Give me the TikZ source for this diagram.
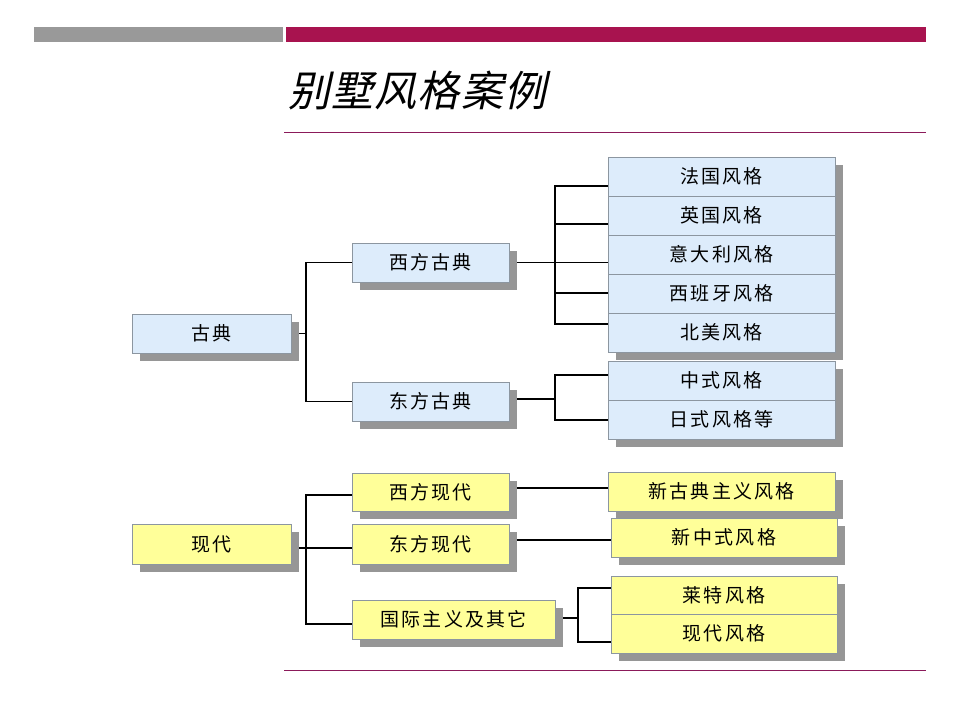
\documentclass[tikz,border=0pt]{standalone}
\usepackage{fontspec}
\setmainfont{Liberation Sans}
\newfontfamily\cjk{Noto Sans CJK SC}[LetterSpace=12]
\newfontfamily\cjktitle{Noto Sans CJK SC}[FakeSlant=0.22,LetterSpace=3]
\usetikzlibrary{shadows}
\definecolor{barmag}{RGB}{168,19,79}
\definecolor{bargray}{RGB}{153,153,153}
\definecolor{rulemag}{RGB}{139,26,90}
\definecolor{bluefill}{RGB}{221,236,251}
\definecolor{yellowfill}{RGB}{255,255,153}
\definecolor{boxborder}{RGB}{140,150,160}
\definecolor{shadowgray}{RGB}{150,150,150}
\tikzset{
  box/.style={draw=boxborder, line width=0.8pt, inner sep=0pt,
    font=\cjk\fontsize{19}{22}\selectfont,
    drop shadow={shadow xshift=8pt, shadow yshift=-8pt, fill=shadowgray, opacity=1}},
  bluebox/.style={box, fill=bluefill},
  yelbox/.style={box, fill=yellowfill},
  conn/.style={draw=black, line width=1.1pt},
}
\begin{document}
\begin{tikzpicture}[x=1pt,y=-1pt]
\useasboundingbox (0,0) rectangle (960,720);
% header
\fill[bargray] (34,27) rectangle (283,42);
\fill[barmag] (286,27) rectangle (926,42);
\node[anchor=west, inner sep=0pt, font=\cjktitle\fontsize{42}{48}\selectfont] (title) at (288,90) {别墅风格案例};
\draw[rulemag, line width=1pt] (284,132) -- (926,132);
\draw[rulemag, line width=1pt] (284,670) -- (926,670);

% classical
\node[bluebox, minimum width=159pt, minimum height=39pt] (gd) at (211.5,333.5) {古典};
\node[bluebox, minimum width=157pt, minimum height=39pt] (xfgd) at (430.5,262.5) {西方古典};
\node[bluebox, minimum width=157pt, minimum height=39pt] (dfgd) at (430.5,401.5) {东方古典};
\node[bluebox, minimum width=227pt, minimum height=39pt] (fr) at (721.5,176.5) {法国风格};
\node[bluebox, minimum width=227pt, minimum height=39pt] (en) at (721.5,215.5) {英国风格};
\node[bluebox, minimum width=227pt, minimum height=39pt] (it) at (721.5,254.5) {意大利风格};
\node[bluebox, minimum width=227pt, minimum height=39pt] (es) at (721.5,293.5) {西班牙风格};
\node[bluebox, minimum width=227pt, minimum height=39pt] (na) at (721.5,332.5) {北美风格};
\node[bluebox, minimum width=227pt, minimum height=39pt] (zs) at (721.5,380.5) {中式风格};
\node[bluebox, minimum width=227pt, minimum height=39pt] (rs) at (721.5,419.5) {日式风格等};

% modern
\node[yelbox, minimum width=159pt, minimum height=40pt] (xd) at (211.5,544) {现代};
\node[yelbox, minimum width=157pt, minimum height=38pt] (xfxd) at (430.5,492) {西方现代};
\node[yelbox, minimum width=157pt, minimum height=40pt] (dfxd) at (430.5,544) {东方现代};
\node[yelbox, minimum width=203pt, minimum height=39pt] (gj) at (453.5,619.5) {国际主义及其它};
\node[yelbox, minimum width=227pt, minimum height=39pt] (xgd) at (721.5,491.5) {新古典主义风格};
\node[yelbox, minimum width=226pt, minimum height=39pt] (xzs) at (724,537.5) {新中式风格};
\node[yelbox, minimum width=226pt, minimum height=38pt] (lt) at (724,595) {莱特风格};
\node[yelbox, minimum width=226pt, minimum height=39pt] (xdfg) at (724,633.5) {现代风格};

% connectors: classical
\coordinate (j1) at (306,333.5);
\draw[conn] ([xshift=8pt]gd.east) -- (j1);
\draw[conn] (xfgd.west) -| (j1) |- (dfgd.west);

\coordinate (jw1) at (555,186);
\coordinate (jw2) at (555,224);
\coordinate (jw4) at (555,293);
\coordinate (jw5) at (555,324);
\draw[conn] ([xshift=8pt]xfgd.east) -- (xfgd.east -| it.west);
\draw[conn] (jw1 -| fr.west) -- (jw1) -- (jw5) -- (jw5 -| na.west);
\draw[conn] (jw2) -- (jw2 -| en.west);
\draw[conn] (jw4) -- (jw4 -| es.west);

\coordinate (je0) at (555,399);
\coordinate (je1) at (555,375);
\coordinate (je2) at (555,420);
\draw[conn] ([xshift=8pt]dfgd.east |- je0) -- (je0);
\draw[conn] (je1 -| zs.west) -- (je1) -- (je2) -- (je2 -| rs.west);

% connectors: modern
\coordinate (j2) at (306,548);
\coordinate (j2t) at (306,495);
\coordinate (j2b) at (306,624);
\draw[conn] ([xshift=8pt]xd.east |- j2) -- (j2 -| dfxd.west);
\draw[conn] (j2t -| xfxd.west) -- (j2t) -- (j2b) -- (j2b -| gj.west);

\coordinate (m1) at (517,488);
\draw[conn] (m1) -- (m1 -| xgd.west);
\coordinate (m2) at (517,540);
\draw[conn] (m2) -- (m2 -| xzs.west);

\coordinate (j3) at (578,618);
\coordinate (j3t) at (578,588);
\coordinate (j3b) at (578,642);
\draw[conn] ([xshift=8pt]gj.east |- j3) -- (j3);
\draw[conn] (j3t -| lt.west) -- (j3t) -- (j3b) -- (j3b -| xdfg.west);
\end{tikzpicture}
\end{document}
